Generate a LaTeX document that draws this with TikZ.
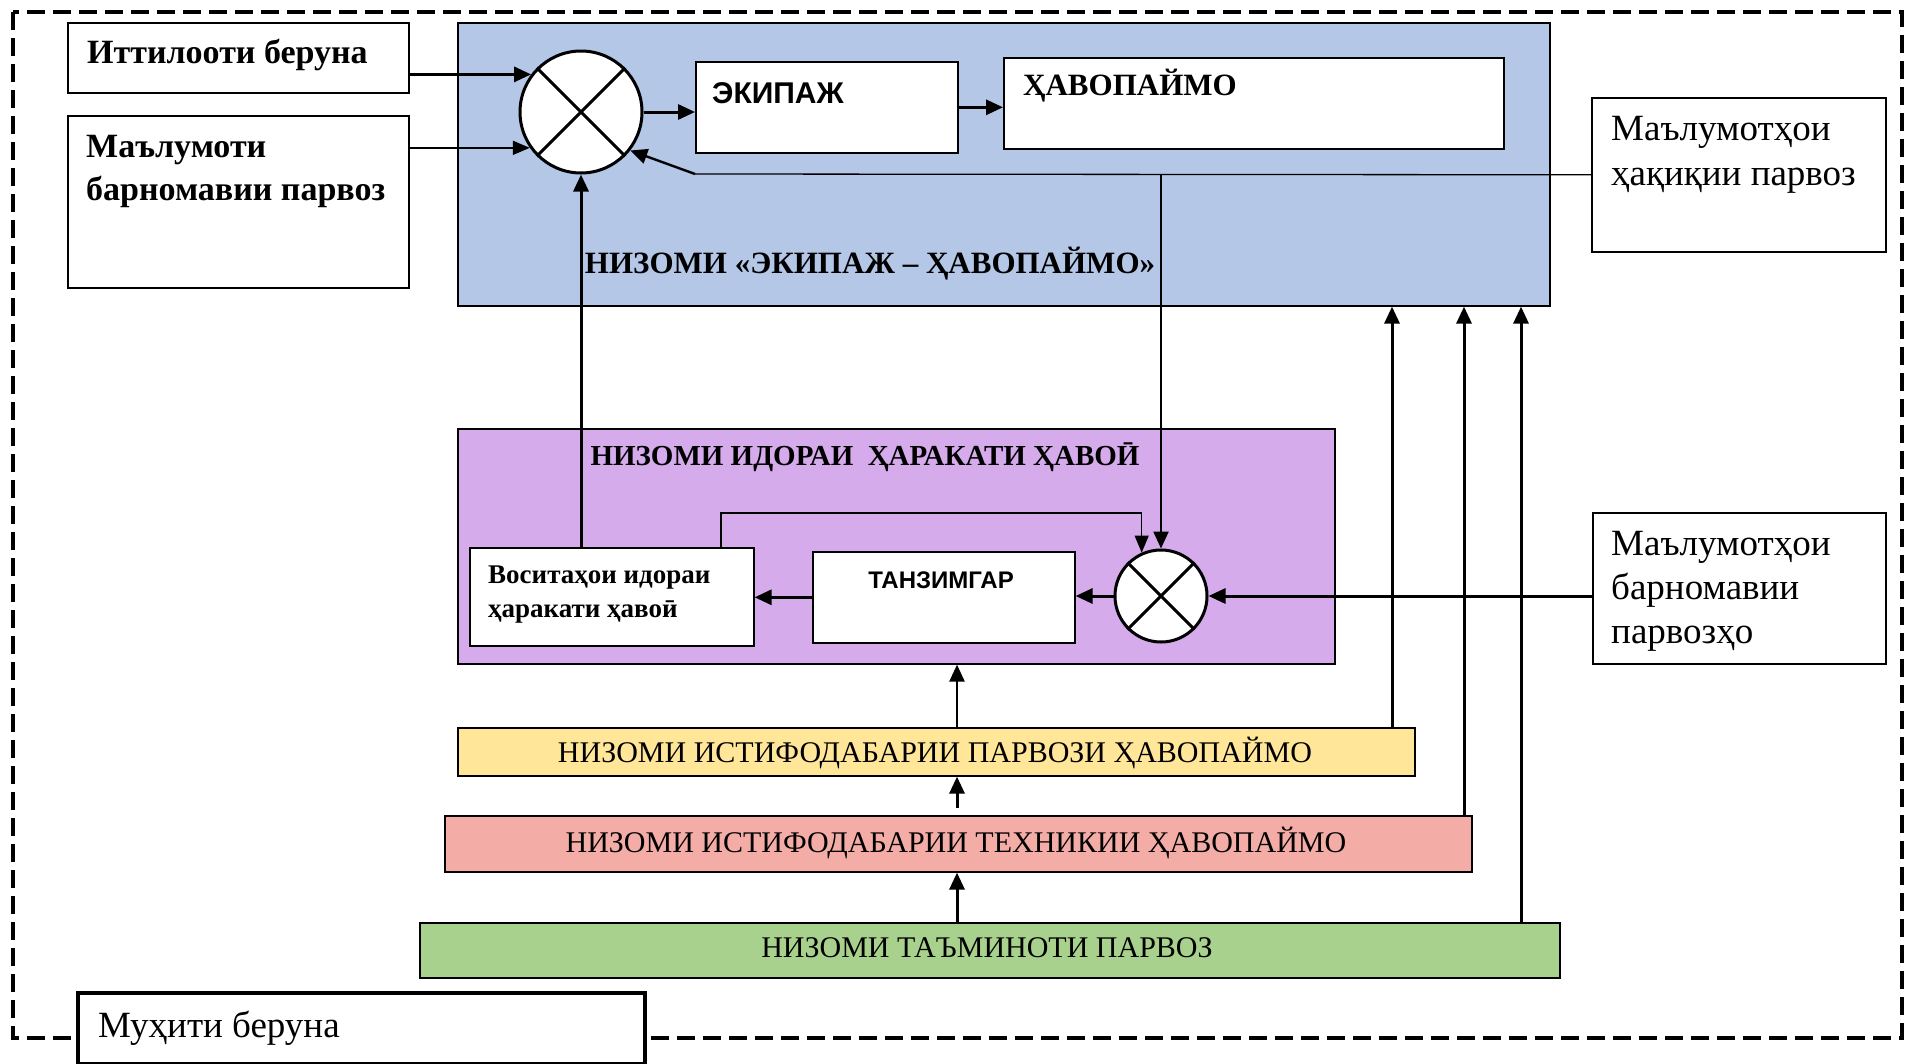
\documentclass[tikz,border=0pt]{standalone}
\usepackage{fontspec}
\setmainfont{Liberation Serif}
\setsansfont{Liberation Sans}
\usetikzlibrary{arrows.meta,calc}
\definecolor{sysblue}{HTML}{B4C7E7}
\definecolor{syspurple}{HTML}{D5ABEB}
\definecolor{sysyellow}{HTML}{FFE699}
\definecolor{sysred}{HTML}{F4ADA6}
\definecolor{sysgreen}{HTML}{A9D18E}
\newcommand{\fs}[1]{\fontsize{#1}{#1}\selectfont}
\begin{document}
\begin{tikzpicture}[x=1pt,y=-1pt,
  box/.style={draw, line width=1.6pt, fill=white, inner sep=0pt, anchor=north west},
  panel/.style={draw, line width=1.6pt, inner sep=0pt, anchor=north west},
  sumc/.style={draw, circle, line width=3pt, fill=white, inner sep=0pt},
  cross/.style={line width=3pt},
  thickarrow/.style={line width=3pt, -{Triangle[length=17pt,width=15pt]}},
  thinarrow/.style={line width=1.3pt, -{Triangle[length=17pt,width=14pt]}},
  thinline/.style={line width=1.3pt},
  vline/.style={line width=3pt, -{Triangle[length=17pt,width=15pt]}},
  txt/.style={inner sep=0pt, anchor=base west},
  ctxt/.style={inner sep=0pt, anchor=base},
]
\useasboundingbox (0,0) rectangle (1905,1063);
% outer dashed frame
\draw[line width=4.5pt, dash pattern=on 18pt off 8pt] (13,12) rectangle (1902,1038);

% left input boxes
\node[box, minimum width=341pt, minimum height=70pt] (it) at (67,22) {};
\node[txt, font=\fs{34}\bfseries] (itT) at (87,63) {Иттилооти беруна};
\node[box, minimum width=341pt, minimum height=172pt] (mb) at (67,115) {};
\node[txt, font=\fs{34}\bfseries] (mbT1) at (86,157) {Маълумоти};
\node[txt, font=\fs{34}\bfseries] (mbT2) at (86,200) {барномавии парвоз};

% blue system
\node[panel, fill=sysblue, minimum width=1092pt, minimum height=283pt] (blue) at (457,22) {};
\node[ctxt, font=\fs{31}\bfseries] (blueT) at (870,273) {НИЗОМИ «ЭКИПАЖ – ҲАВОПАЙМО»};
\node[box, minimum width=262pt, minimum height=91pt] (ek) at (695,61) {};
\node[txt, font=\sffamily\fs{30}\bfseries] (ekT) at (712,103) {ЭКИПАЖ};
\node[box, minimum width=500pt, minimum height=91pt] (hv) at (1003,57) {};
\node[txt, font=\fs{31}\bfseries] (hvT) at (1023,95) {ҲАВОПАЙМО};
\node[sumc, minimum size=122pt] (uc) at (581,112) {};
\draw[cross] (uc.45) -- (uc.225) (uc.135) -- (uc.315);

% right boxes
\node[box, minimum width=294pt, minimum height=154pt] (hq) at (1591,97) {};
\node[txt, font=\fs{37}] (hqT1) at (1611,140) {Маълумотҳои};
\node[txt, font=\fs{37}] (hqT2) at (1611,185) {ҳақиқии парвоз};
\node[box, minimum width=293pt, minimum height=151pt] (hb) at (1592,512) {};
\node[txt, font=\fs{37}] (hbT1) at (1611,555) {Маълумотҳои};
\node[txt, font=\fs{37}] (hbT2) at (1611,599) {барномавии};
\node[txt, font=\fs{37}] (hbT3) at (1611,643) {парвозҳо};

% purple system
\node[panel, fill=syspurple, minimum width=877pt, minimum height=235pt] (purple) at (457,428) {};
\node[ctxt, font=\fs{29}\bfseries] (purpleT) at (865,465) {НИЗОМИ ИДОРАИ \ ҲАРАКАТИ ҲАВОӢ};
\node[box, minimum width=284pt, minimum height=98pt] (vs) at (469,547) {};
\node[txt, font=\fs{27}\bfseries] (vsT1) at (488,583) {Воситаҳои идораи};
\node[txt, font=\fs{27}\bfseries] (vsT2) at (488,617) {ҳаракати ҳавоӣ};
\node[box, minimum width=262pt, minimum height=91pt] (tz) at (812,551) {};
\node[ctxt, font=\sffamily\fs{24}\bfseries] (tzT) at (941,588) {ТАНЗИМГАР};
\node[sumc, minimum size=92pt] (lc) at (1161,596) {};
\draw[cross] (lc.45) -- (lc.225) (lc.135) -- (lc.315);

% bars
\node[panel, fill=sysyellow, minimum width=957pt, minimum height=48pt] (yb) at (457,727) {};
\node[ctxt, font=\fs{30}] (ybT) at (935,762) {НИЗОМИ ИСТИФОДАБАРИИ ПАРВОЗИ ҲАВОПАЙМО};
\node[panel, fill=sysred, minimum width=1027pt, minimum height=56pt] (rb) at (444,815) {};
\node[ctxt, font=\fs{30}] (rbT) at (956,852) {НИЗОМИ ИСТИФОДАБАРИИ ТЕХНИКИИ ҲАВОПАЙМО};
\node[panel, fill=sysgreen, minimum width=1140pt, minimum height=55pt] (gb) at (419,922) {};
\node[ctxt, font=\fs{30}] (gbT) at (987,957) {НИЗОМИ ТАЪМИНОТИ ПАРВОЗ};

% environment label
\node[draw, line width=4pt, fill=white, inner sep=0pt, anchor=north west, minimum width=567pt, minimum height=71pt] (env) at (76,991) {};
\node[txt, font=\fs{37}] (envT) at (98,1037) {Муҳити беруна};

% connectors: upper loop
\draw[thickarrow] (uc.143 -| it.east) -- (uc.143);
\draw[thinarrow, line width=1.6pt] (uc.215 -| mb.east) -- (uc.215);
\draw[thickarrow] (uc.east) -- (uc.east -| ek.west);
\draw[thickarrow] (ek.east) -- (ek.east -| hv.west);
\coordinate (fb) at (695,174);
\coordinate (jn) at (lc.north |- hq.west);
\draw[thinline] (hq.west) -- (fb);
\draw[line width=2.4pt, -{Triangle[length=17pt,width=15pt]}] (fb) -- (uc.-38);
\draw[vline, line width=2.4pt] (jn) -- (lc.north);
\draw[vline] (vs.north -| uc.south) -- (uc.south);

% lower loop
\coordinate (vsa) at (721,547);
\coordinate (vsb) at (721,513);
\coordinate (vsc) at (lc.114 |- vsb);
\draw[thinline, -{Triangle[length=17pt,width=14pt]}] (vsa) -- (vsb) -- (vsc) -- (lc.114);
\draw[thickarrow] (lc.east -| hb.west) -- (lc.east);
\draw[thickarrow] (lc.west) -- (lc.west -| tz.east);
\draw[thickarrow] (tz.west) -- (tz.west -| vs.east);

% bars chain
\coordinate (ya) at (957,727);
\draw[vline, line width=2.4pt] (ya) -- (ya |- purple.south);
\coordinate (ra) at (957,808);
\draw[vline] (ra) -- (ra |- yb.south);
\coordinate (ga) at (957,922);
\draw[vline] (ga) -- (ga |- rb.south);

% risers to blue panel
\coordinate (y1) at (1392,727);
\coordinate (r1) at (1464,815);
\coordinate (g1) at (1521,922);
\draw[vline] (y1) -- (y1 |- blue.south);
\draw[vline] (r1) -- (r1 |- blue.south);
\draw[vline] (g1) -- (g1 |- blue.south);
\end{tikzpicture}
\end{document}
